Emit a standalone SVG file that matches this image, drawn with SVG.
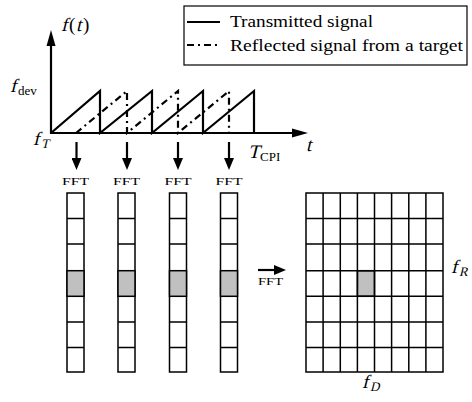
<svg xmlns="http://www.w3.org/2000/svg" width="472" height="402" viewBox="0 0 472 402">
<defs>
<style>
.ln{stroke:#000;stroke-width:2.2;fill:none}
.dd{stroke:#000;stroke-width:2.2;fill:none;stroke-dasharray:7 4 2 4}
.cell{fill:#fff;stroke:#000;stroke-width:1.5}
.hit{fill:#c0c0c0;stroke:#000;stroke-width:1.5}
.lbl{font-family:"Liberation Serif","Times New Roman",serif;fill:#000}
.mi{font-family:"Liberation Serif","Times New Roman",serif;fill:#000;font-size:19px}
.sub{font-family:"Liberation Serif","Times New Roman",serif;fill:#000;font-size:13px}
.fft{font-family:"Liberation Serif","Times New Roman",serif;font-size:10px;fill:#000}
</style>
<marker id="ah" viewBox="0 0 12 10" refX="0" refY="5" markerWidth="12" markerHeight="10" markerUnits="userSpaceOnUse" orient="auto"><path d="M0,0 L12,5 L0,10 Z" fill="#000"/></marker>
</defs>
<rect width="472" height="402" fill="#fff"/>

<g id="chart">
<line class="ln" x1="51" y1="134" x2="51" y2="44"/>
<polygon points="51,30 46.5,46 55.5,46" fill="#000"/>
<line class="ln" x1="50" y1="133" x2="293" y2="133"/>
<polygon points="308,133 292,128.5 292,137.5" fill="#000"/>
<path class="ln" d="M51,133 L100,91 L100,133 L152,91 L152,133 L203,91 L203,133 L254,91 L254,133"/>
<path class="dd" d="M76,133 L127,91 L127,133 L178,91 L178,133 L229,91 L229,133"/>
<!-- f(t) -->
<text class="mi" transform="translate(61,31) skewX(-14)">f</text>
<text class="mi" x="69" y="31">(</text>
<text class="mi" transform="translate(76,31) skewX(-14)">t</text>
<text class="mi" x="83" y="31">)</text>
<!-- f_dev -->
<text class="mi" transform="translate(10,92) skewX(-14)">f</text>
<text class="sub" x="18" y="95">dev</text>
<!-- f_T -->
<text class="mi" transform="translate(33,145) skewX(-14)">f</text>
<text class="sub" transform="translate(41,148) skewX(-14)">T</text>
<!-- T_CPI -->
<text class="mi" transform="translate(248,158) skewX(-14)">T</text>
<text class="sub" x="260" y="161">CPI</text>
<!-- t -->
<text class="mi" transform="translate(306,151) skewX(-14)">t</text>
</g>

<g id="legend">
<rect x="184" y="6" width="283" height="59" fill="#fff" stroke="#000" stroke-width="1.2"/>
<line class="ln" x1="187" y1="22" x2="220" y2="22"/>
<line class="dd" x1="187" y1="45" x2="221" y2="45"/>
<text class="lbl" x="230" y="27" font-size="16" textLength="143" lengthAdjust="spacingAndGlyphs">Transmitted signal</text>
<text class="lbl" x="230" y="51" font-size="16" textLength="233" lengthAdjust="spacingAndGlyphs">Reflected signal from a target</text>
</g>

<g id="col1">
<rect class="cell" x="67" y="193" width="17" height="179"/>
<rect class="hit" x="67" y="270.7" width="17" height="25.6"/>
<path class="cell" d="M67,218.6 H84 M67,244.1 H84 M67,321.9 H84 M67,347.4 H84"/>
</g>
<g id="col2">
<rect class="cell" x="118" y="193" width="17" height="179"/>
<rect class="hit" x="118" y="270.7" width="17" height="25.6"/>
<path class="cell" d="M118,218.6 H135 M118,244.1 H135 M118,321.9 H135 M118,347.4 H135"/>
</g>
<g id="col3">
<rect class="cell" x="169.5" y="193" width="17" height="179"/>
<rect class="hit" x="169.5" y="270.7" width="17" height="25.6"/>
<path class="cell" d="M169.5,218.6 H186.5 M169.5,244.1 H186.5 M169.5,321.9 H186.5 M169.5,347.4 H186.5"/>
</g>
<g id="col4">
<rect class="cell" x="220.5" y="193" width="17" height="179"/>
<rect class="hit" x="220.5" y="270.7" width="17" height="25.6"/>
<path class="cell" d="M220.5,218.6 H237.5 M220.5,244.1 H237.5 M220.5,321.9 H237.5 M220.5,347.4 H237.5"/>
</g>

<g id="matrix">
<rect class="cell" x="306" y="193" width="137" height="179"/>
<rect class="hit" x="357.4" y="270.7" width="17.1" height="25.6"/>
<path class="cell" d="M323.1,193 V372 M340.3,193 V372 M357.4,193 V372 M374.5,193 V372 M391.6,193 V372 M408.8,193 V372 M425.9,193 V372
M306,218.6 H443 M306,244.1 H443 M306,270.7 H443 M306,296.3 H443 M306,321.9 H443 M306,347.4 H443"/>
<text class="mi" transform="translate(451,273) skewX(-14)">f</text>
<text class="sub" transform="translate(459,276) skewX(-14)">R</text>
<text class="mi" transform="translate(362,388) skewX(-14)">f</text>
<text class="sub" transform="translate(370,391) skewX(-14)">D</text>
</g>

<g id="connectors">
<line class="ln" x1="76.5" y1="142" x2="76.5" y2="158" marker-end="url(#ah)"/>
<line class="ln" x1="127" y1="142" x2="127" y2="158" marker-end="url(#ah)"/>
<line class="ln" x1="178" y1="142" x2="178" y2="158" marker-end="url(#ah)"/>
<line class="ln" x1="229" y1="142" x2="229" y2="158" marker-end="url(#ah)"/>
<line class="ln" x1="258" y1="270" x2="274" y2="270" marker-end="url(#ah)"/>
<text class="fft" x="62" y="185" textLength="27" lengthAdjust="spacingAndGlyphs">FFT</text>
<text class="fft" x="113" y="185" textLength="27" lengthAdjust="spacingAndGlyphs">FFT</text>
<text class="fft" x="164.5" y="185" textLength="27" lengthAdjust="spacingAndGlyphs">FFT</text>
<text class="fft" x="215.5" y="185" textLength="27" lengthAdjust="spacingAndGlyphs">FFT</text>
<text class="fft" x="258" y="285" textLength="25" lengthAdjust="spacingAndGlyphs">FFT</text>
</g>
</svg>
